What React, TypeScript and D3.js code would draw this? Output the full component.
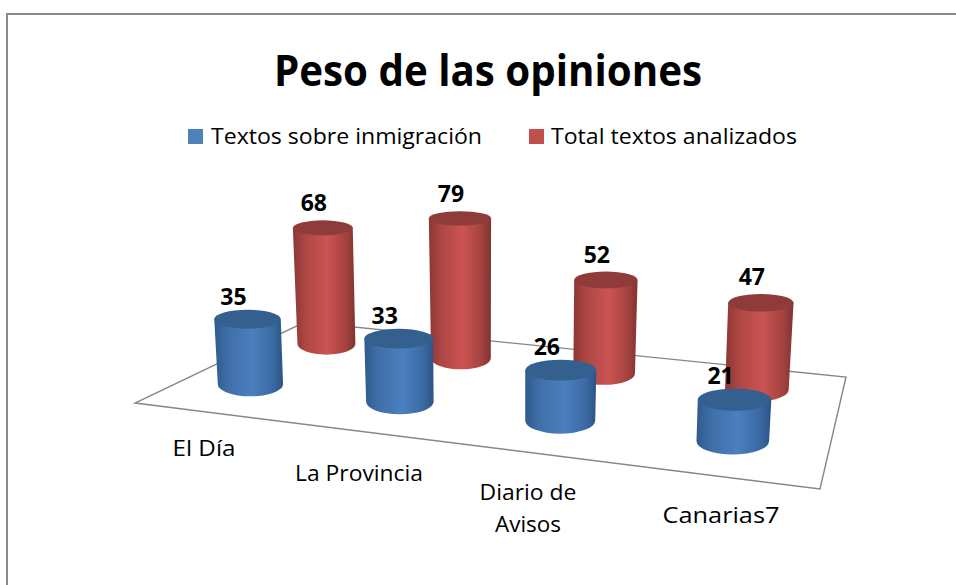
import React from "react";
import * as d3 from "d3";

const categories = [["El Día"], ["La Provincia"], ["Diario de", "Avisos"], ["Canarias7"]];
const seriesNames = ["Textos sobre inmigración", "Total textos analizados"];
const inmigracion = [35, 33, 26, 21];
const total = [68, 79, 52, 47];

const W = 956, H = 585;
const quad = [[135, 403], [820, 489], [846, 377], [305, 322]]; // floor corners: FL, FR, BR, BL

function homography(q: number[][]) {
  const [[x0, y0], [x1, y1], [x2, y2], [x3, y3]] = q;
  const dx1 = x1 - x2, dx2 = x3 - x2, sx = x0 - x1 + x2 - x3;
  const dy1 = y1 - y2, dy2 = y3 - y2, sy = y0 - y1 + y2 - y3;
  const den = dx1 * dy2 - dx2 * dy1;
  const g = (sx * dy2 - dx2 * sy) / den;
  const h = (dx1 * sy - sx * dy1) / den;
  const a = x1 - x0 + g * x1, b = x3 - x0 + h * x3, c = x0;
  const d = y1 - y0 + g * y1, e = y3 - y0 + h * y3, f = y0;
  return (u: number, v: number) => {
    const w = g * u + h * v + 1;
    return { x: (a * u + b * v + c) / w, y: (d * u + e * v + f) / w, w };
  };
}
const project = homography(quad);
const uScale = d3.scaleBand<number>().domain([0, 1, 2, 3]).range([-0.022, 0.99]);
const vScale = d3.scaleOrdinal<number, number>().domain([0, 1]).range([0.27, 0.76]);
const uOffset = [0.004, 0.004];
const valueScale = d3.scaleLinear().domain([0, 100]).range([-5, 206]);

function cylinderPath(cat: number, ser: number, value: number) {
  const p = project(uScale(cat)! + uScale.bandwidth() / 2 + uOffset[ser], vScale(ser));
  const s = 1 / p.w;
  const h = valueScale(value) * s;
  const rx = 34.5 * s, ry = rx * 0.37;
  const topX = p.x + (p.x - 500) * h * 1.8e-4, topY = p.y - h;
  const rxT = rx * (1 + h * 0.0003), ryT = rxT * (0.33 - h * 0.0007);
  const side = `M${topX - rxT},${topY} L${p.x - rx},${p.y} A${rx},${ry} 0 0 0 ${p.x + rx},${p.y} L${topX + rxT},${topY} Z`;
  return { side, topX, topY, rxT, ryT, p };
}

const marks = d3.cross([0, 1, 2, 3], [1, 0]).map(([c, s]) => ({ c, s, v: (s ? total : inmigracion)[c] }));

const fills = ["url(#blueG)", "url(#redG)"];
const tops = ["#33608f", "#8e3b39"];
const legendFill = ["#4f81bd", "#c0504d"];
const labelDx = [-14, -9];
const labelUp = [5, 9];
const catPos = [[204, 456], [359, 481], [528, 500], [721, 523]];
const catWidths = [[63], [128], [97, 66], [117]];
const legendX = [211, 551];
const legendW = [271, 246];
const font = "'Open Sans', 'Noto Sans', sans-serif";

export default function App() {
  return (
    <svg width={W} height={H} style={{ position: "absolute", left: 0, top: 0, background: "#fff" }} fontFamily={font}>
      <defs>
        <linearGradient id="blueG" x1="0" x2="1" y1="0" y2="0">
          <stop offset="0" stopColor="#2f5a8c" />
          <stop offset="0.2" stopColor="#3f6fa9" />
          <stop offset="0.55" stopColor="#4c7fbe" />
          <stop offset="0.85" stopColor="#3a6aa3" />
          <stop offset="1" stopColor="#2c5484" />
        </linearGradient>
        <linearGradient id="redG" x1="0" x2="1" y1="0" y2="0">
          <stop offset="0" stopColor="#8c3735" />
          <stop offset="0.2" stopColor="#ad4644" />
          <stop offset="0.55" stopColor="#cb5452" />
          <stop offset="0.85" stopColor="#a34240" />
          <stop offset="1" stopColor="#813331" />
        </linearGradient>
      </defs>
      <path d={`M7,${H} V14 H${W}`} fill="none" stroke="#8a8a8a" strokeWidth={2} />
      <polygon points={quad.map((d) => d.join(",")).join(" ")} fill="#fff" stroke="#868686" strokeWidth={1.4} />
      {marks.map(({ c, s, v }) => {
        const m = cylinderPath(c, s, v);
        return (
          <g key={`${c}-${s}`}>
            <path d={m.side} fill={fills[s]} />
            <ellipse cx={m.topX} cy={m.topY} rx={m.rxT} ry={m.ryT} fill={tops[s]} />
          </g>
        );
      })}
      {marks.map(({ c, s, v }) => {
        const m = cylinderPath(c, s, v);
        return (
          <text key={`l${c}-${s}`} x={m.topX + labelDx[s]} y={m.topY - m.ryT - labelUp[s]} textAnchor="middle" fontWeight={700} fontSize={23} fill="#000">
            {v}
          </text>
        );
      })}
      <text x={488} y={86} textAnchor="middle" fontWeight={700} fontSize={43} textLength={428} lengthAdjust="spacingAndGlyphs" fill="#000">
        Peso de las opiniones
      </text>
      {seriesNames.map((n, i) => (
        <g key={n}>
          <rect x={[188, 529][i]} y={129} width={15} height={15} fill={legendFill[i]} />
          <text x={legendX[i]} y={144} fontSize={21.5} textLength={legendW[i]} lengthAdjust="spacingAndGlyphs" fill="#000">{n}</text>
        </g>
      ))}
      {categories.map((lines, i) =>
        lines.map((t, j) => (
          <text key={`${i}-${j}`} x={catPos[i][0]} y={catPos[i][1] + j * 32} textAnchor="middle" fontSize={21.5} textLength={catWidths[i][j]} lengthAdjust="spacingAndGlyphs" fill="#000">
            {t}
          </text>
        ))
      )}
    </svg>
  );
}
